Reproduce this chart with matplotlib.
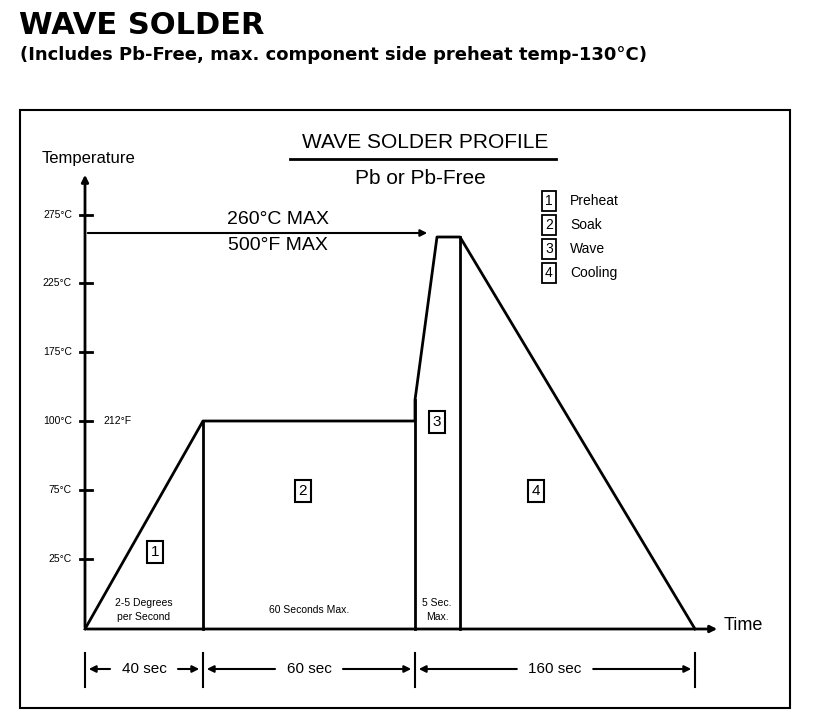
import matplotlib
matplotlib.use("Agg")
import matplotlib.pyplot as plt
from matplotlib.patches import Rectangle

# Diagram data (diagram coordinates: x in pixels along time axis, y in pixels up from baseline)
y_tick_labels = ["275°C", "225°C", "175°C", "100°C", "75°C", "25°C"]
y_tick_pos = [215, 283, 352, 421, 490, 559]
profile_x = [85, 203, 415, 415, 437, 460, 695]
profile_y = [629, 421, 421, 400, 237, 237, 629]
phase_names = ["Preheat", "Soak", "Wave", "Cooling"]
phase_label_pos = [(155, 552), (303, 491), (437, 422), (536, 491)]
phase_notes = ["2-5 Degrees\nper Second", "60 Seconds Max.", "5 Sec.\nMax.", ""]
durations = ["40 sec", "60 sec", "160 sec"]
dur_bounds = [(85, 203), (203, 415), (415, 695)]

fig = plt.figure(figsize=(8.17, 7.26), dpi=100)
ax = fig.add_axes([0, 0, 1, 1])
ax.set_xlim(0, 817); ax.set_ylim(726, 0); ax.axis("off")
F = "Liberation Sans"

ax.text(19, 25, "WAVE SOLDER", fontsize=22, fontweight="bold", family="DejaVu Sans", va="center")
ax.text(20, 55, "(Includes Pb-Free, max. component side preheat temp-130°C)", fontsize=13,
        fontweight="bold", family="DejaVu Sans", va="center")
ax.add_patch(Rectangle((20, 110), 770, 598, fill=False, lw=1.5, ec="black"))

ax.text(425, 143, "WAVE SOLDER PROFILE", fontsize=15, family=F, ha="center", va="center")
ax.plot([290, 556], [159, 159], color="black", lw=2)
ax.text(420, 178, "Pb or Pb-Free", fontsize=15, family=F, ha="center", va="center")

# axes
ax.annotate("", xy=(85, 172), xytext=(85, 630), arrowprops=dict(arrowstyle="-|>", lw=2, color="black"))
ax.annotate("", xy=(720, 629), xytext=(84, 629), arrowprops=dict(arrowstyle="-|>", lw=2, color="black"))
ax.text(42, 158, "Temperature", fontsize=12, family=F, va="center")
ax.text(724, 625, "Time", fontsize=13, family=F, va="center")
for lab, p in zip(y_tick_labels, y_tick_pos):
    ax.plot([80, 92], [p, p], color="black", lw=2)
    ax.text(72, p, lab, fontsize=7.5, family=F, ha="right", va="center")
ax.text(103, 421, "212°F", fontsize=7.5, family=F, va="center")

# peak arrow
ax.annotate("", xy=(430, 233), xytext=(85, 233), arrowprops=dict(arrowstyle="-|>", lw=1.5, color="black"))
ax.text(278, 220, "260°C MAX", fontsize=14, family=F, ha="center", va="center")
ax.text(278, 246, "500°F MAX", fontsize=14, family=F, ha="center", va="center")

# profile
ax.plot(profile_x, profile_y, color="black", lw=2)
for x, top in [(203, 421), (415, 400), (460, 237)]:
    ax.plot([x, x], [top, 629], color="black", lw=2)

for i, (x, y) in enumerate(phase_label_pos):
    ax.text(x, y, str(i + 1), fontsize=11, family=F, ha="center", va="center",
            bbox=dict(boxstyle="square,pad=0.25", fc="white", ec="black", lw=1.5))
note_x = [144, 309, 437]
for x, n in zip(note_x, phase_notes[:3]):
    ax.text(x, 610, n, fontsize=7.5, family=F, ha="center", va="center", linespacing=1.4)

# legend
for i, n in enumerate(phase_names):
    y = 201 + i * 24
    ax.text(549, y, str(i + 1), fontsize=10, family=F, ha="center", va="center",
            bbox=dict(boxstyle="square,pad=0.25", fc="white", ec="black", lw=1.3))
    ax.text(570, y, n, fontsize=10, family=F, va="center")

# durations
for x in [85, 203, 415, 695]:
    ax.plot([x, x], [653, 687], color="black", lw=1.5)
for lab, (a, b) in zip(durations, dur_bounds):
    m = (a + b) / 2
    hw = 4.2 * len(lab) + 6
    ax.text(m, 669, lab, fontsize=11, family=F, ha="center", va="center")
    ax.annotate("", xy=(a + 1, 669), xytext=(m - hw, 669), arrowprops=dict(arrowstyle="-|>", lw=1.5, color="black"))
    ax.annotate("", xy=(b - 1, 669), xytext=(m + hw, 669), arrowprops=dict(arrowstyle="-|>", lw=1.5, color="black"))

fig.savefig("out.png", dpi=100)
